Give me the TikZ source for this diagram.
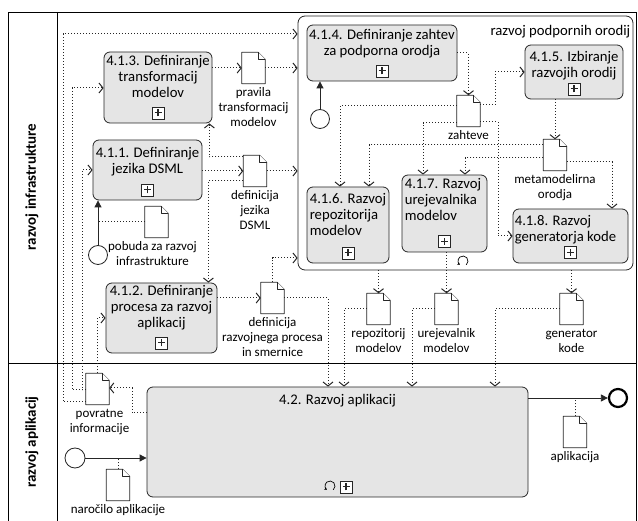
\documentclass[tikz,border=0pt]{standalone}
\usepackage{fontspec}
\setmainfont{Carlito}
\usetikzlibrary{arrows.meta,positioning}

\tikzset{
  opravilo/.style={draw=black!85, line width=0.8pt, rounded corners=6pt, fill=black!10, inner sep=0pt},
  podproces/.style={draw=black!85, line width=0.8pt, rounded corners=7pt, fill=white, inner sep=0pt},
  napis/.style={font=\fontsize{14.7}{16}\selectfont, align=center, inner sep=0pt},
  levinapis/.style={napis, align=left},
  steza/.style={font=\bfseries\fontsize{15}{17}\selectfont, inner sep=0pt},
  plus/.style={draw=black!85, line width=0.7pt, fill=white, minimum size=12pt, inner sep=0pt,
    path picture={\draw[line width=1.1pt]
      ([xshift=-3.5pt]path picture bounding box.center) -- ([xshift=3.5pt]path picture bounding box.center)
      ([yshift=-3.5pt]path picture bounding box.center) -- ([yshift=3.5pt]path picture bounding box.center);}},
  zanka/.style={line width=0.7pt, -{Stealth[length=2.5pt,width=3pt]}},
  podatek/.style={minimum width=23pt, minimum height=31pt, inner sep=0pt},
  podatekrob/.style={draw=black!85, fill=white, line width=0.8pt, line join=round},
  podnapis/.style={font=\fontsize{13}{15}\selectfont, align=center, inner sep=0pt},
  zacetek/.style={circle, draw=black!85, line width=0.8pt, minimum size=19pt, inner sep=0pt, fill=white},
  konec/.style={circle, draw=black, line width=2.2pt, minimum size=18pt, inner sep=0pt, fill=white},
  tok/.style={draw=black!85, line width=0.8pt, -{Triangle[length=7pt,width=7pt]}},
  asoc/.style={draw=black!85, line width=1pt, dash pattern=on 1pt off 2pt},
  ptok/.style={asoc, -{Straight Barb[length=4pt,width=10pt,line width=1pt]}},
}

\newcommand{\podatek}[4][]{%
  \node[podatek] (#2) at (#3) {};
  \draw[podatekrob] (#2.south west) -- (#2.north west) -- ([xshift=-7pt]#2.north east)
    -- ([yshift=-7pt]#2.north east) -- (#2.south east) -- cycle;
  \draw[podatekrob] ([xshift=-7pt]#2.north east) |- ([yshift=-7pt]#2.north east);
  \node[podnapis, below=4pt of #2, #1] (#2-n) {#4};
}

\begin{document}
\begin{tikzpicture}[x=1pt,y=-1pt]
  \useasboundingbox (0,0) rectangle (638,521);
  \draw[line width=0.8pt] (8,521) -- (8,12) -- (636,12) -- (636,521);
  \draw[line width=0.8pt] (57,12) -- (57,521);
  \draw[line width=0.8pt] (8,363) -- (636,363);
  \node[steza, rotate=90] (lanInf) at (32,187) {razvoj infrastrukture};
  \node[steza, rotate=90] (lanApl) at (32,442) {razvoj aplikacij};

  \node[podproces, minimum width=335pt, minimum height=254pt] (cont) at (465.5,143) {};
  \node[napis, anchor=north east] (cont-b) at ([xshift=-3pt,yshift=-9pt]cont.north east) {razvoj podpornih orodij};

  \node[opravilo, minimum width=108pt, minimum height=71pt] (t413) at (158,87.5) {};
  \node[napis, anchor=north] (t413-b) at ([yshift=-4pt]t413.north) {4.1.3. Definiranje\\transformacij\\modelov};
  \node[plus] (t413-p) at ([yshift=10.5pt]t413.south) {};
  \node[opravilo, minimum width=109pt, minimum height=60pt] (t411) at (147.5,170) {};
  \node[napis, anchor=north] (t411-b) at ([yshift=-8pt]t411.north) {4.1.1. Definiranje\\jezika DSML};
  \node[plus] (t411-p) at ([yshift=10.5pt]t411.south) {};
  \node[opravilo, minimum width=111pt, minimum height=70pt] (t412) at (161.5,318) {};
  \node[napis, anchor=north] (t412-b) at ([yshift=-3pt]t412.north) {4.1.2. Definiranje\\procesa za razvoj\\aplikacij};
  \node[plus] (t412-p) at ([yshift=10.5pt]t412.south) {};
  \node[opravilo, minimum width=150pt, minimum height=56pt] (t414) at (382,53) {};
  \node[napis, anchor=north] (t414-b) at ([yshift=-4pt]t414.north) {4.1.4. Definiranje zahtev\\za podporna orodja};
  \node[plus] (t414-p) at ([yshift=10.5pt]t414.south) {};
  \node[opravilo, minimum width=98pt, minimum height=54pt] (t415) at (574,72) {};
  \node[napis, anchor=north] (t415-b) at ([yshift=-6pt]t415.north) {4.1.5. Izbiranje\\razvojih orodij};
  \node[plus] (t415-p) at ([yshift=10.5pt]t415.south) {};
  \node[opravilo, minimum width=82pt, minimum height=76pt] (t416) at (348,225) {};
  \node[levinapis, anchor=north west] (t416-b) at ([xshift=3pt,yshift=-7pt]t416.north west) {4.1.6. Razvoj\\repozitorija\\modelov};
  \node[plus] (t416-p) at ([yshift=10.5pt]t416.south) {};
  \node[opravilo, minimum width=85pt, minimum height=77pt] (t417) at (444.5,213.5) {};
  \node[levinapis, anchor=north west] (t417-b) at ([xshift=3pt,yshift=-4pt]t417.north west) {4.1.7. Razvoj\\urejevalnika\\modelov};
  \node[plus] (t417-p) at ([yshift=11pt]t417.south) {};
  \node[opravilo, minimum width=115pt, minimum height=54pt] (t418) at (570.5,236) {};
  \node[levinapis, anchor=north west] (t418-b) at ([xshift=2pt,yshift=-7pt]t418.north west) {4.1.8. Razvoj\\generatorja kode};
  \node[plus] (t418-p) at ([yshift=11pt]t418.south) {};
  \node[opravilo, minimum width=381pt, minimum height=110pt] (t42) at (337.5,442) {};
  \node[napis, anchor=north] (t42-b) at ([yshift=-7pt]t42.north) {4.2. Razvoj aplikacij};
  \node[plus] (t42-p) at ([xshift=8.5pt,yshift=10.5pt]t42.south) {};

  \coordinate (t417-z) at (463,261);
  \draw[zanka] ([shift={(-50:5pt)}]t417-z) arc[start angle=-50, end angle=230, radius=5pt];
  \coordinate (t42-z) at (330,486);
  \draw[zanka] ([shift={(-50:5pt)}]t42-z) arc[start angle=-50, end angle=230, radius=5pt];

  \podatek{dPrav}{253.5,68}{pravila\\transformacij\\modelov}
  \podatek{dJez}{255,171}{definicija\\jezika\\DSML}
  \podatek[xshift=-4pt]{dPob}{156.5,222}{pobuda za razvoj\\infrastrukture}
  \podatek{dRazv}{272.5,298}{definicija\\razvojnega procesa\\in smernice}
  \podatek{dZaht}{468.5,111}{zahteve}
  \podatek{dMeta}{555,155}{metamodelirna\\orodja}
  \podatek{dRepo}{378.5,309}{repozitorij\\modelov}
  \podatek{dUrej}{446.5,309}{urejevalnik\\modelov}
  \podatek{dGen}{571.5,309}{generator\\kode}
  \podatek[xshift=2pt]{dPovr}{97.5,389}{povratne\\informacije}
  \podatek{dNar}{118,485}{naročilo aplikacije}
  \podatek{dApl}{575,432}{aplikacija}

  \node[zacetek] (zInf) at (98,255) {};
  \node[zacetek] (zOrod) at (320,119) {};
  \node[zacetek, minimum size=20pt] (zApl) at (75,458) {};
  \node[konec] (kApl) at (618,398) {};

  \draw[tok] (zInf) -- (zInf |- t411.south);
  \draw[tok] (zOrod) -- (zOrod |- t414.south);
  \draw[tok] (zApl) -- (zApl -| t42.west);
  \draw[tok] (t42.east |- kApl) -- (kApl);

  \draw[asoc] (dPob.west) -- (zInf |- dPob.west);
  \draw[asoc] (dNar.north) -- (dNar |- zApl);
  \draw[asoc] (dApl.north) -- (dApl |- kApl);

  \draw[ptok] (dPovr.west |- 0,402) -| (63,34) -- (cont.west |- 0,34);
  \draw[ptok] (dPovr.west |- 0,390) -| (72,88) -- (t413.west |- 0,88);
  \draw[ptok] (dPovr.west |- 0,390) -| (82,170) -- (t411.west);
  \draw[ptok] (dPovr.north) |- (t412.west);
  \draw[ptok] (t42.west |- 0,413) -| (132,388) -- (dPovr.east |- 0,388);

  \draw[ptok] (t413.east |- dPrav) -- (dPrav.west);
  \draw[ptok] (dPrav.east) -- (cont.west |- dPrav);
  \draw[ptok] (t411.east |- dJez) -- (dJez.west);
  \draw[ptok] (dJez.east) -- (cont.west |- dJez);
  \draw[ptok] (dJez.west |- 0,157) -| ([xshift=-3pt]t413.south east);
  \draw[ptok] (dJez.west |- 0,181) -| ([xshift=-9pt]t412.north east);
  \draw[ptok] (t412.east |- dRazv) -- (dRazv.west);
  \draw[ptok] (dRazv.north) |- (cont.west |- 0,258);
  \draw[ptok] (dRazv.east) -| (t42.north -| 328,0);
  \draw[ptok] (dRepo.west) -| (t42.north -| 344,0);
  \draw[ptok] (dUrej.west) -| (t42.north -| 412,0);
  \draw[ptok] (dGen.west) -| (t42.north -| 495,0);
  \draw[ptok] (dRepo |- cont.south) -- (dRepo.north);
  \draw[ptok] (dUrej |- t417.south) -- (dUrej.north);
  \draw[ptok] (dGen |- cont.south) -- (dGen.north);

  \draw[ptok] (t414.east) -| (dZaht.north);
  \draw[ptok] (dZaht.east |- 0,105) -| (495,72) -- (t415.west);
  \draw[ptok] (dZaht.west |- 0,106) -| ([xshift=-8pt]t416.north);
  \draw[ptok] (dZaht.west |- 0,123) -| ([xshift=-21.5pt]t417.north);
  \draw[ptok] (dZaht.east |- 0,122) -| (498,236) -- (t418.west);
  \draw[ptok] (dMeta |- t415.south) -- (dMeta.north);
  \draw[ptok] (dMeta.west |- 0,145) -| ([xshift=21pt]t416.north);
  \draw[ptok] (dMeta.west |- 0,158) -| ([xshift=20.5pt]t417.north);
  \draw[ptok] (dMeta.east |- 0,162) -| ([xshift=41.5pt]t418.north);
\end{tikzpicture}
\end{document}
